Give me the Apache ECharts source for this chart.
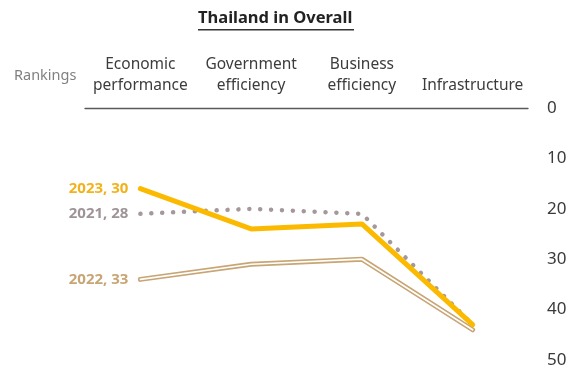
<!DOCTYPE html>
<html>
<head>
<meta charset="utf-8">
<script src="https://cdn.jsdelivr.net/npm/echarts@6/dist/echarts.min.js"></script>
<style>
  html, body { margin: 0; padding: 0; background: #fff; }
  #chart { width: 579px; height: 369px; }
</style>
</head>
<body>
<div id="chart"></div>
<script>
// Competitiveness factors (ranking, lower is better)
const factors = ['Economic\nperformance', 'Government\nefficiency', 'Business\nefficiency', 'Infrastructure'];
const rank2021 = [21, 20, 21, 43];
const rank2022 = [34, 31, 30, 44];
const rank2023 = [16, 24, 23, 43];
// Overall ranking per year
const overall = { '2021': 28, '2022': 33, '2023': 30 };
const rankTicks = [0, 10, 20, 30, 40, 50];

const FONT = '"Noto Sans", "Open Sans", sans-serif';
const GOLD = '#FBB900';
const MAUVE = '#A5989B';
const TAN = '#C8A574';

function yearLabel(year, color) {
  return {
    show: true,
    position: 'left',
    distance: 12,
    fontFamily: FONT,
    fontSize: 15,
    fontWeight: 'bold',
    color: color,
    formatter: (p) => p.dataIndex === 0 ? year + ', ' + overall[year] : ''
  };
}

const chart = echarts.init(document.getElementById('chart'), null, { renderer: 'canvas' });

chart.setOption({
  animation: false,
  backgroundColor: '#fff',
  grid: { left: 85, right: 51, top: 108, bottom: 9, containLabel: false },
  xAxis: {
    type: 'category',
    position: 'top',
    data: factors,
    boundaryGap: true,
    axisLine: { show: true, lineStyle: { color: '#595959', width: 1.3 } },
    axisTick: { show: false },
    axisLabel: {
      interval: 0,
      margin: 12,
      fontFamily: FONT,
      fontSize: 15.5,
      lineHeight: 21,
      color: '#3c3c3c',
      align: 'center'
    },
    splitLine: { show: false }
  },
  yAxis: {
    type: 'value',
    position: 'right',
    inverse: true,
    min: rankTicks[0],
    max: rankTicks[rankTicks.length - 1],
    interval: 10,
    axisLine: { show: false },
    axisTick: { show: false },
    splitLine: { show: false },
    axisLabel: {
      margin: 19,
      align: 'left',
      fontFamily: FONT,
      fontSize: 17,
      color: '#3a3a3a'
    }
  },
  series: [
    {
      name: '2022',
      type: 'line',
      data: rank2022,
      symbol: 'circle',
      symbolSize: 0,
      showSymbol: true,
      z: 2,
      lineStyle: { color: TAN, width: 5, cap: 'round', join: 'round' },
      label: yearLabel('2022', TAN)
    },
    {
      name: '2022 inner',
      type: 'line',
      data: rank2022,
      symbol: 'none',
      z: 3,
      silent: true,
      lineStyle: { color: '#ffffff', width: 1.7, cap: 'round', join: 'round' }
    },
    {
      name: '2021',
      type: 'line',
      data: rank2021,
      symbol: 'circle',
      symbolSize: 0,
      showSymbol: true,
      z: 4,
      lineStyle: { color: MAUVE, width: 4.5, type: [0.1, 10.8], cap: 'round', join: 'round' },
      label: yearLabel('2021', '#9F9396')
    },
    {
      name: '2023',
      type: 'line',
      data: rank2023,
      symbol: 'circle',
      symbolSize: 0,
      showSymbol: true,
      z: 5,
      lineStyle: { color: GOLD, width: 5, cap: 'round', join: 'round' },
      label: yearLabel('2023', '#F2B21C')
    }
  ],
  graphic: [
    {
      type: 'text',
      left: 198,
      top: 10,
      style: {
        text: 'Thailand in Overall',
        fontFamily: FONT,
        fontSize: 16.5,
        fontWeight: 'bold',
        fill: '#222'
      }
    },
    {
      type: 'rect',
      shape: { x: 198, y: 29, width: 156, height: 1.5 },
      style: { fill: '#333' }
    },
    {
      type: 'text',
      left: 14,
      top: 68,
      style: {
        text: 'Rankings',
        fontFamily: FONT,
        fontSize: 14.5,
        fill: '#808080'
      }
    }
  ]
});
</script>
</body>
</html>
